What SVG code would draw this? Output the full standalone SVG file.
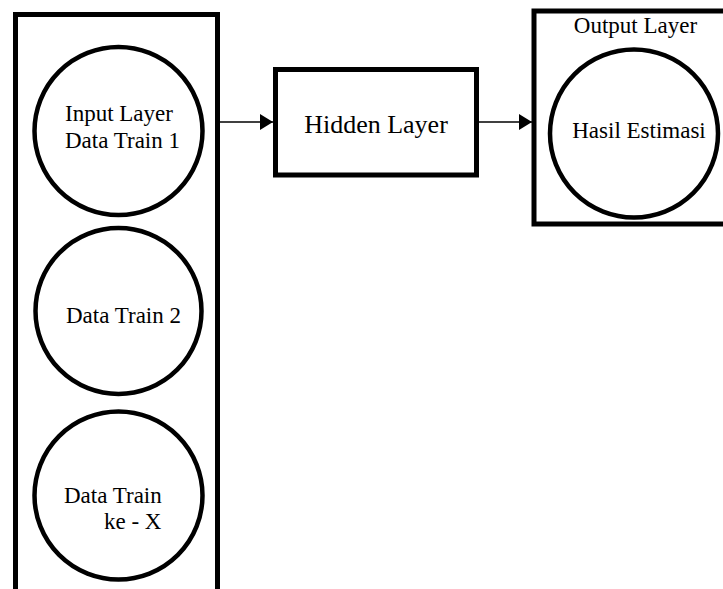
<svg xmlns="http://www.w3.org/2000/svg" width="723" height="589" viewBox="0 0 723 589">
  <style>
    .frame { fill: none; stroke: #000; stroke-width: 5; }
    .node { fill: #fff; stroke: #000; stroke-width: 4.5; }
    .label { font-family: "Liberation Serif", "Times New Roman", serif; fill: #000; }
    .small { font-size: 23px; }
    .big { font-size: 26px; }
    .link { stroke: #000; stroke-width: 1.5; fill: none; }
  </style>
  <defs>
    <marker id="arrow" markerUnits="userSpaceOnUse" markerWidth="13" markerHeight="16" refX="13" refY="8" orient="auto">
      <path d="M0,0 L13,8 L0,16 Z" fill="#000"/>
    </marker>
  </defs>
  <rect width="723" height="589" fill="#fff"/>

  <!-- input layer column -->
  <g id="input-layer">
    <rect class="frame" x="15.5" y="14.5" width="202" height="590"/>
  </g>
  <g id="data-train-1">
    <circle class="node" cx="118.5" cy="131" r="84"/>
    <text class="label small" x="65" y="121">Input Layer</text>
    <text class="label small" x="65" y="148">Data Train 1</text>
  </g>
  <g id="data-train-2">
    <circle class="node" cx="118.5" cy="311" r="83"/>
    <text class="label small" x="66" y="323">Data Train 2</text>
  </g>
  <g id="data-train-x">
    <circle class="node" cx="118.5" cy="495.5" r="84"/>
    <text class="label small" x="64" y="503">Data Train</text>
    <text class="label small" x="104" y="529">ke - X</text>
  </g>

  <!-- hidden layer -->
  <g id="hidden-layer">
    <rect class="frame" x="275.5" y="69.5" width="201" height="105.5"/>
    <text class="label big" x="376" y="133" text-anchor="middle">Hidden Layer</text>
  </g>

  <!-- output layer -->
  <g id="output-layer">
    <rect class="frame" x="534" y="11" width="200" height="213"/>
    <text class="label small" x="635.5" y="33" text-anchor="middle">Output Layer</text>
  </g>
  <g id="hasil-estimasi">
    <circle class="node" cx="634" cy="133.5" r="84"/>
    <text class="label small" x="639" y="138" text-anchor="middle">Hasil Estimasi</text>
  </g>

  <!-- connectors -->
  <g id="connectors">
    <line class="link" x1="220" y1="122" x2="273" y2="122" marker-end="url(#arrow)"/>
    <line class="link" x1="479" y1="122" x2="532" y2="122" marker-end="url(#arrow)"/>
  </g>
</svg>
